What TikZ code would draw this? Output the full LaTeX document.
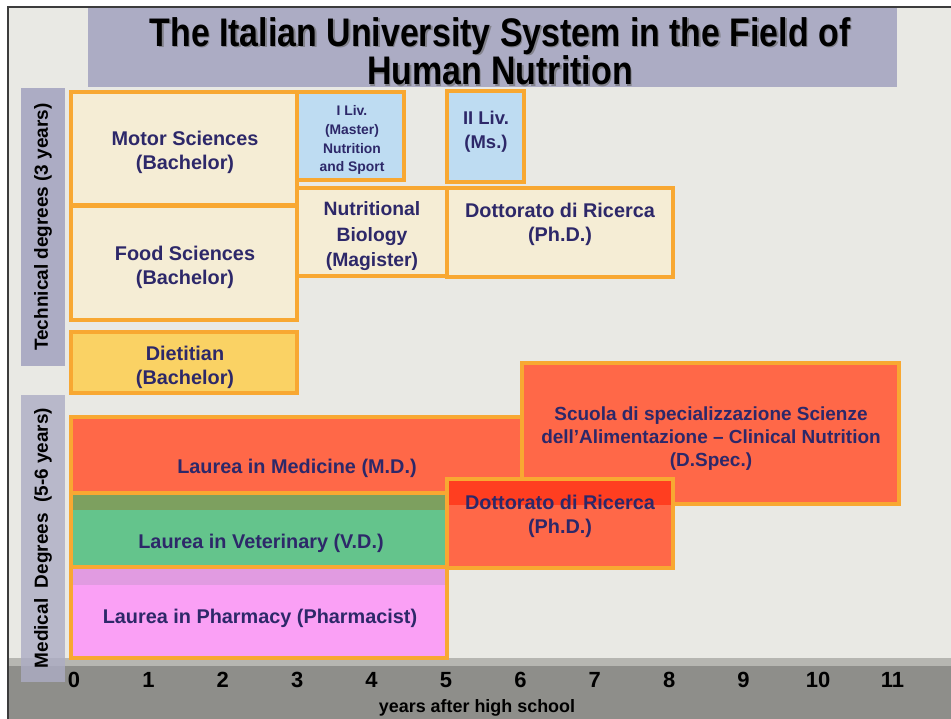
\documentclass[tikz,border=0pt]{standalone}
\usepackage{fontspec}
\setmainfont{Liberation Sans}
\newfontfamily\titlefont[FakeStretch=0.85]{Liberation Sans}
\usetikzlibrary{fit}
\definecolor{bg}{RGB}{233,233,228}
\definecolor{lav}{RGB}{172,172,196}
\definecolor{bord}{RGB}{248,168,50}
\definecolor{cream}{RGB}{245,237,213}
\definecolor{diet}{RGB}{250,210,100}
\definecolor{lblue}{RGB}{190,220,242}
\definecolor{redor}{RGB}{255,104,72}
\definecolor{redstrip}{RGB}{255,62,32}
\definecolor{vgreen}{RGB}{100,196,140}
\definecolor{olive}{RGB}{125,160,95}
\definecolor{pink}{RGB}{250,160,245}
\definecolor{mauve}{RGB}{225,155,225}
\definecolor{navy}{RGB}{45,40,105}
\definecolor{bandl}{RGB}{182,182,177}
\definecolor{bandd}{RGB}{142,142,138}
\definecolor{framec}{RGB}{60,60,60}
\begin{document}
\begin{tikzpicture}[x=0.02cm,y=-0.02cm,
  box/.style={draw=bord, line width=2.3pt, inner sep=0pt},
  bar/.style={fill=lav, inner sep=0pt},
  txt/.style={text=navy, align=center, inner sep=0pt, anchor=base,
    font=\bfseries\fontsize{11.3}{14.2}\selectfont},
  vlab/.style={rotate=90, inner sep=0pt, font=\bfseries\fontsize{10.8}{13}\selectfont},
  tick/.style={inner sep=0pt, anchor=base, font=\bfseries\fontsize{12.5}{14}\selectfont}]
\useasboundingbox (0,0) rectangle (951,719);
\fill[white] (0,0) rectangle (951,719);
\fill[bg] (8,7) rectangle (951,719);
% bottom band
\fill[bandl] (8,658) rectangle (951,666);
\fill[bandd] (8,666) rectangle (951,719);
\draw[framec, line width=0.8pt] (8,719) -- (8,7) -- (951,7);
% title
\node[bar, fit={(88,8)(897,87)}] (banner) {};
\node[inner sep=0pt, anchor=base, align=center, text=black!60, opacity=0.6,
  font=\titlefont\bfseries\fontsize{22.7}{20.4}\selectfont] (titlesh) at (501.5,86.5)
  {The Italian University System in the Field of\\Human Nutrition};
\node[inner sep=0pt, anchor=base, align=center,
  font=\titlefont\bfseries\fontsize{22.7}{20.4}\selectfont] (title) at (500,85)
  {The Italian University System in the Field of\\Human Nutrition};
% side bars
\node[bar, fit={(21,88)(65,366)}] (techbar) {};
\node[vlab] (techlab) at (43,227) {Technical degrees (3 years)};
\node[bar, fill opacity=0.8, fit={(21,395)(65,682)}] (medbar) {};
\node[vlab] (medlab) at (43,538) {Medical\ \ Degrees\ \ (5-6 years)};
% technical boxes
\node[box, fill=cream, fit={(71,92)(297,205)}] (motor) {};
\node[txt] (motort) at (185,170) {Motor Sciences\\(Bachelor)};
\node[box, fill=cream, fit={(71,206)(297,320)}] (food) {};
\node[txt] (foodt) at (185,285) {Food Sciences\\(Bachelor)};
\node[box, fill=diet, fit={(71,332)(297,393)}] (diet) {};
\node[txt] (dietst) at (185,385) {Dietitian\\(Bachelor)};
\node[box, fill=lblue, fit={(297,92)(404,180)}] (iliv) {};
\node[txt, font=\bfseries\fontsize{7.9}{10.8}\selectfont] (ilivt) at (352,172)
  {I Liv.\\(Master)\\Nutrition\\and Sport};
\node[box, fill=lblue, fit={(447,91)(524,182)}] (iiliv) {};
\node[txt, font=\bfseries\fontsize{10.5}{14.2}\selectfont] (iilivt) at (486,149) {II Liv.\\(Ms.)};
\node[box, fill=cream, fit={(297,188)(447,276)}] (nutbio) {};
\node[txt, font=\bfseries\fontsize{11}{14.7}\selectfont] (nutbiot) at (372,267)
  {Nutritional\\Biology\\(Magister)};
\node[box, fill=cream, fit={(447,188)(673,277)}] (dotta) {};
\node[txt] (dottat) at (560,242) {Dottorato di Ricerca\\(Ph.D.)};
% medical boxes
\node[box, fill=redor, fit={(71,417)(522,510)}] (med) {};
\node[box, fill=redor, fit={(522,363)(899,504)}] (scuola) {};
\node[box, fill=vgreen, fit={(71,493)(447,567)}] (vet) {};
\fill[olive] (73,495) rectangle (445,510);
\node[box, fill=pink, fit={(71,567)(447,658)}] (pharm) {};
\fill[mauve] (73,569) rectangle (445,585);
\node[box, fill=redor, fit={(447,479)(673,568)}] (dottb) {};
\fill[redstrip] (449,481) rectangle (671,505);
\node[txt] (medt) at (297,474) {Laurea in Medicine (M.D.)};
\node[txt, font=\bfseries\fontsize{10.8}{13.3}\selectfont] (scuolat) at (711,467)
  {Scuola di specializzazione Scienze\\dell'Alimentazione -- Clinical Nutrition\\(D.Spec.)};
\node[txt] (vett) at (261,549) {Laurea in Veterinary (V.D.)};
\node[txt] (pharmt) at (260,624) {Laurea in Pharmacy (Pharmacist)};
\node[txt] (dottbt) at (560,534) {Dottorato di Ricerca\\(Ph.D.)};
% axis
\foreach \t in {0,...,11} {
  \node[tick] (tk\t) at ({74+74.4*\t},688) {\t};
}
\node[inner sep=0pt, anchor=base, font=\bfseries\fontsize{10.2}{12}\selectfont] (axlab) at (477,713)
  {years after high school};
\end{tikzpicture}
\end{document}
